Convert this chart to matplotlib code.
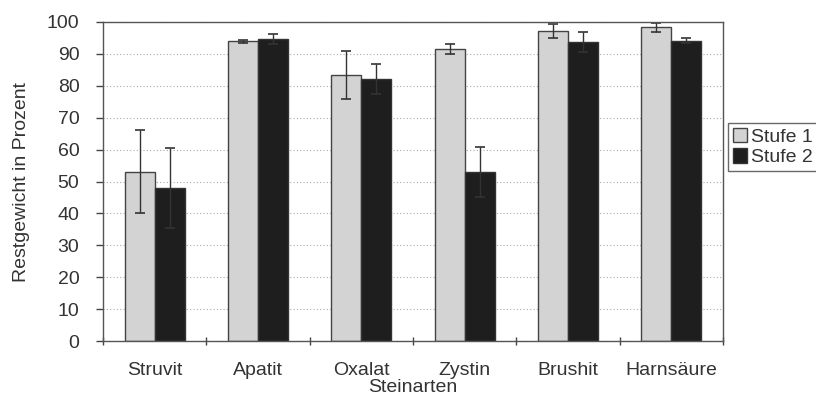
import numpy as np
import matplotlib.pyplot as plt
from matplotlib.ticker import FixedLocator, NullFormatter

steinarten = ['Struvit', 'Apatit', 'Oxalat', 'Zystin', 'Brushit', 'Harnsäure']
stufe1 = [53, 94, 83.5, 91.5, 97.3, 98.3]
stufe1_err = [13, 0.5, 7.5, 1.5, 2.2, 1.5]
stufe2 = [48, 94.7, 82.2, 53, 93.8, 94.2]
stufe2_err = [12.5, 1.5, 4.7, 7.8, 3.2, 0.7]

plt.rcParams['font.family'] = ['Liberation Sans', 'DejaVu Sans']
fs = 14

fig = plt.figure(figsize=(8.16, 3.99), dpi=100)
ax = fig.add_axes([103 / 816, 1 - 341 / 399, 620 / 816, 319 / 399])

x = np.arange(len(steinarten))
w = 0.29
ax.bar(x - w / 2, stufe1, w, color='#d3d3d3', edgecolor='#444444', linewidth=1,
       yerr=stufe1_err, capsize=3.5, error_kw=dict(ecolor='#333333', elinewidth=1, capthick=1.2),
       label='Stufe 1', zorder=2)
ax.bar(x + w / 2, stufe2, w, color='#1e1e1e', edgecolor='#333333', linewidth=1,
       yerr=stufe2_err, capsize=3.5, error_kw=dict(ecolor='#333333', elinewidth=1, capthick=1.2),
       label='Stufe 2', zorder=2)

ax.set_xlim(-0.5, len(steinarten) - 0.5)
ax.set_ylim(0, 100)
ax.set_yticks(range(0, 101, 10))
ax.yaxis.grid(True, linestyle=(0, (1, 2)), color='#aaaaaa', linewidth=0.8, zorder=0)
ax.set_axisbelow(True)

ax.set_xticks(x)
ax.set_xticklabels(steinarten, fontsize=fs, color='#333333')
ax.tick_params(axis='x', which='major', length=0, pad=15)
ax.xaxis.set_minor_locator(FixedLocator(np.arange(-0.5, len(steinarten), 1.0)))
ax.xaxis.set_minor_formatter(NullFormatter())
ax.tick_params(axis='x', which='minor', length=6, width=1, color='#444444', direction='inout')
ax.tick_params(axis='y', labelsize=fs, length=5, width=1, color='#444444', labelcolor='#333333', pad=12)

for s in ax.spines.values():
    s.set_color('#555555')
    s.set_linewidth(1)

ax.set_ylabel('Restgewicht in Prozent', fontsize=fs, color='#333333', labelpad=12)
ax.set_xlabel('Steinarten', fontsize=fs, color='#333333', labelpad=0)

leg = ax.legend(loc='center left', bbox_to_anchor=(728 / 816, 1 - 147 / 399), bbox_transform=fig.transFigure,
                fontsize=fs, frameon=True, fancybox=False, edgecolor='#444444',
                handlelength=0.75, handleheight=0.75, handletextpad=0.2, borderpad=0.25,
                labelspacing=0.15, borderaxespad=0)
for t in leg.get_texts():
    t.set_color('#333333')

fig.savefig('out.png', dpi=100)
